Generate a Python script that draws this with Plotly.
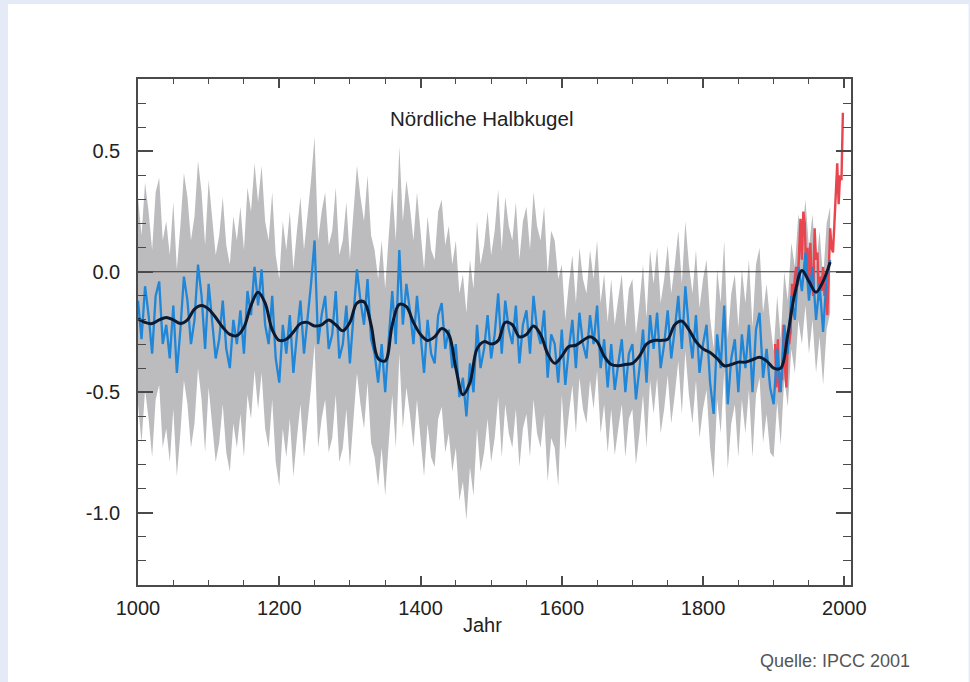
import plotly.graph_objects as go

# ---------------- data ----------------
years_recon = list(range(1000, 1981, 5))
recon = [
    -0.12, -0.28, -0.06, -0.18, -0.34, -0.10, -0.04, -0.30, -0.22, -0.36,   # 1000-1045
    -0.14, -0.42, -0.24, -0.02, -0.12, -0.30, -0.20, 0.03, -0.10, -0.32,    # 1050-1095
    -0.05, -0.20, -0.36, -0.28, -0.12, -0.32, -0.40, -0.20, -0.30, -0.16,   # 1100-1145
    -0.34, -0.08, -0.18, 0.02, -0.14, 0.01, -0.22, -0.30, -0.10, -0.36,     # 1150-1195
    -0.46, -0.22, -0.34, -0.18, -0.42, -0.26, -0.12, -0.34, -0.20, -0.05,   # 1200-1245
    0.13, -0.30, -0.18, -0.10, -0.32, -0.26, -0.08, -0.36, -0.30, -0.14,    # 1250-1295
    -0.38, -0.20, 0.01, -0.12, -0.22, -0.03, -0.28, -0.34, -0.46, -0.30,    # 1300-1345
    -0.50, -0.28, -0.08, -0.30, 0.09, -0.22, -0.05, -0.16, -0.30, -0.10,    # 1350-1395
    -0.26, -0.42, -0.20, -0.34, -0.38, -0.18, -0.13, -0.32, -0.24, -0.40,   # 1400-1445
    -0.30, -0.52, -0.44, -0.60, -0.38, -0.50, -0.22, -0.40, -0.32, -0.18,   # 1450-1495
    -0.36, -0.26, -0.09, -0.34, -0.12, -0.24, -0.30, -0.14, -0.38, -0.22,   # 1500-1545
    -0.16, -0.34, -0.10, -0.24, -0.30, -0.16, -0.44, -0.26, -0.30, -0.46,   # 1550-1595
    -0.24, -0.47, -0.32, -0.20, -0.40, -0.17, -0.30, -0.36, -0.18, -0.30,   # 1600-1645
    -0.14, -0.40, -0.28, -0.48, -0.30, -0.49, -0.38, -0.28, -0.50, -0.34,   # 1650-1695
    -0.30, -0.53, -0.40, -0.24, -0.46, -0.18, -0.32, -0.17, -0.40, -0.30,   # 1700-1745
    -0.16, -0.36, -0.24, -0.10, -0.32, -0.06, -0.24, -0.36, -0.18, -0.42,   # 1750-1795
    -0.30, -0.22, -0.46, -0.59, -0.26, -0.40, -0.14, -0.55, -0.36, -0.28,   # 1800-1845
    -0.50, -0.26, -0.40, -0.22, -0.50, -0.24, -0.17, -0.44, -0.32, -0.48,   # 1850-1895
    -0.55, -0.32, -0.50, -0.22, -0.34, -0.10, -0.20, 0.02, -0.08, 0.08,     # 1900-1945
    -0.12, 0.02, -0.20, -0.05, -0.25, -0.02, 0.05,                          # 1950-1980
]

years_smooth = list(range(1000, 1981, 10))
smooth = [
    -0.195, -0.21, -0.215, -0.20, -0.19, -0.20, -0.215, -0.20, -0.155, -0.14,   # 1000-1090
    -0.155, -0.19, -0.23, -0.26, -0.265, -0.23, -0.14, -0.085, -0.13, -0.24,    # 1100-1190
    -0.285, -0.28, -0.25, -0.215, -0.21, -0.225, -0.22, -0.20, -0.22, -0.245,   # 1200-1290
    -0.21, -0.13, -0.125, -0.22, -0.36, -0.37, -0.22, -0.135, -0.145, -0.21,    # 1300-1390
    -0.26, -0.285, -0.27, -0.235, -0.26, -0.40, -0.51, -0.46, -0.32, -0.29,     # 1400-1490
    -0.30, -0.285, -0.21, -0.22, -0.27, -0.26, -0.225, -0.26, -0.34, -0.38,     # 1500-1590
    -0.35, -0.31, -0.305, -0.285, -0.27, -0.29, -0.35, -0.385, -0.39, -0.385,   # 1600-1690
    -0.38, -0.35, -0.30, -0.285, -0.285, -0.28, -0.22, -0.205, -0.24, -0.29,    # 1700-1790
    -0.32, -0.335, -0.36, -0.39, -0.385, -0.375, -0.375, -0.365, -0.355, -0.37, # 1800-1890
    -0.40, -0.40, -0.26, -0.09, 0.005, -0.04, -0.085, -0.04, 0.04,              # 1900-1980
]

years_instr = list(range(1902, 1999, 2))
instr = [
    -0.30, -0.48, -0.28, -0.50, -0.42, -0.45, -0.22, -0.40, -0.48, -0.28,   # 1902-1920
    -0.30, -0.25, -0.05, -0.12, -0.02, 0.02, -0.06, 0.08, 0.22, 0.05,       # 1922-1940
    0.25, 0.20, 0.00, 0.10, -0.08, 0.12, -0.05, -0.10, 0.18, 0.05,          # 1942-1960
    0.08, -0.12, -0.02, -0.08, 0.02, -0.10, -0.06, -0.18, 0.05, 0.18,       # 1962-1980
    0.10, 0.08, 0.20, 0.34, 0.45, 0.28, 0.40, 0.38, 0.66,                   # 1982-1998
]

# two-sigma half width of the uncertainty band, by period start year
band_start = [1000, 1600, 1900]
band_half = [0.43, 0.27, 0.22]

x_ticks = [1000, 1200, 1400, 1600, 1800, 2000]
x_labels = ["1000", "1200", "1400", "1600", "1800", "2000"]
y_ticks = [-1.0, -0.5, 0.0, 0.5]
y_labels = ["-1.0", "-0.5", "0.0", "0.5"]

assert len(recon) == len(years_recon)
assert len(smooth) == len(years_smooth)
assert len(instr) == len(years_instr)


def half_width(year):
    h = band_half[0]
    for s, v in zip(band_start, band_half):
        if year >= s:
            h = v
    return h


upper = [v + half_width(y) for y, v in zip(years_recon, recon)]
lower = [v - half_width(y) for y, v in zip(years_recon, recon)]

# ---------------- figure ----------------
W, H = 970, 682
L, R, T, B = 138, 119, 79, 97
pw, ph = W - L - R, H - T - B


def px(x):
    return (x - L) / pw


def py(y):
    return (H - B - y) / ph


FONT = "Liberation Sans, Arial, Helvetica, sans-serif"
AX = "#4a4a4a"

fig = go.Figure()

fig.add_trace(go.Scatter(x=years_recon, y=lower, mode="lines",
                         line=dict(width=0, color="#bcbcbe"),
                         hoverinfo="skip", showlegend=False))
fig.add_trace(go.Scatter(x=years_recon, y=upper, mode="lines",
                         line=dict(width=0, color="#bcbcbe"),
                         fill="tonexty", fillcolor="#bcbcbe",
                         hoverinfo="skip", showlegend=False))
fig.add_trace(go.Scatter(x=[1000, 2010], y=[0, 0], mode="lines",
                         line=dict(width=1, color="#333333"),
                         hoverinfo="skip", showlegend=False))
fig.add_trace(go.Scatter(x=years_instr, y=instr, mode="lines",
                         line=dict(width=2.4, color="#e8454f"),
                         showlegend=False))
fig.add_trace(go.Scatter(x=years_recon, y=recon, mode="lines",
                         line=dict(width=2.3, color="#1f86d8"),
                         showlegend=False))
fig.add_trace(go.Scatter(x=years_smooth, y=smooth, mode="lines",
                         line=dict(width=3, color="#0b1a30", shape="spline", smoothing=1.0),
                         showlegend=False))

fig.update_layout(
    width=W, height=H,
    margin=dict(l=L, r=R, t=T, b=B, pad=0),
    paper_bgcolor="#e4ebf7",
    plot_bgcolor="white",
    font=dict(family=FONT, color="#222222"),
    showlegend=False,
    shapes=[dict(type="rect", xref="paper", yref="paper",
                 x0=px(8), x1=px(968.5), y0=py(H + 5), y1=py(4),
                 fillcolor="white", line=dict(width=0), layer="below")],
    annotations=[
        dict(text="Nördliche Halbkugel", xref="paper", yref="paper",
             x=px(481.5), y=py(118), xanchor="center", yanchor="middle",
             showarrow=False, font=dict(size=20.5, color="#222222", family=FONT)),
        dict(text="Jahr", xref="paper", yref="paper",
             x=px(482.5), y=py(625), xanchor="center", yanchor="middle",
             showarrow=False, font=dict(size=20, color="#222222", family=FONT)),
        dict(text="Quelle: IPCC 2001", xref="paper", yref="paper",
             x=px(912), y=py(661), xanchor="right", yanchor="middle",
             showarrow=False, font=dict(size=18, color="#555555", family=FONT)),
    ],
)

fig.update_xaxes(
    range=[1000, 2009.5], showgrid=False, zeroline=False,
    showline=True, linecolor=AX, linewidth=1.5, mirror="ticks",
    tickmode="array", tickvals=x_ticks, ticktext=x_labels,
    ticks="inside", ticklen=9, tickwidth=1.5, tickcolor=AX,
    tickfont=dict(size=20, color="#222222", family=FONT),
    ticklabelstandoff=4,
    minor=dict(dtick=50, tick0=1000, ticks="inside", ticklen=5,
               tickwidth=1.3, tickcolor=AX, showgrid=False),
)
fig.update_yaxes(
    range=[-1.3, 0.8], showgrid=False, zeroline=False,
    showline=True, linecolor=AX, linewidth=1.5, mirror="ticks",
    tickmode="array", tickvals=y_ticks, ticktext=y_labels,
    ticks="inside", ticklen=15, tickwidth=1.5, tickcolor=AX,
    tickfont=dict(size=20, color="#222222", family=FONT),
    ticklabelstandoff=12,
    minor=dict(dtick=0.1, tick0=0, ticks="inside", ticklen=8,
               tickwidth=1.3, tickcolor=AX, showgrid=False),
)

fig.write_html("out.html",
               config={"displayModeBar": False},
               post_script="document.body.style.margin='0px';document.body.style.overflow='hidden';")
